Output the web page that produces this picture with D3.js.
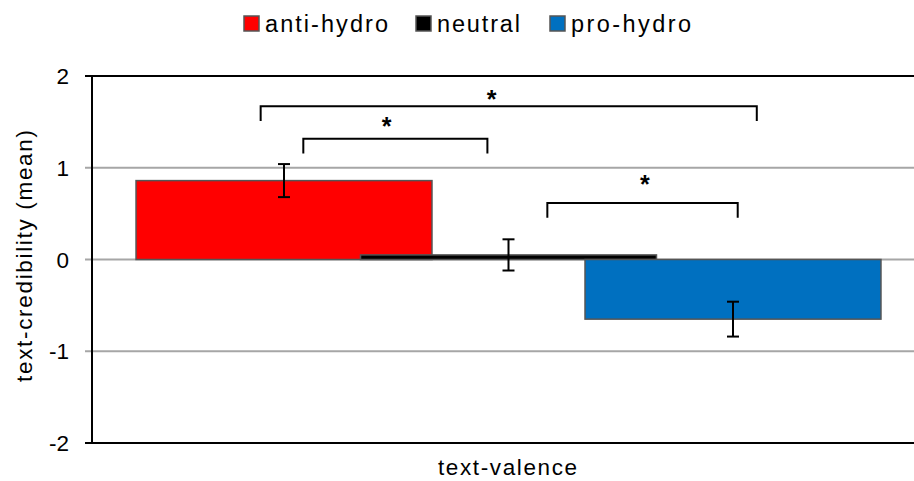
<!DOCTYPE html>
<html>
<head>
<meta charset="utf-8">
<script src="https://cdn.jsdelivr.net/npm/d3@7"></script>
<style>
  html, body { margin: 0; padding: 0; background: #fff; }
  svg { display: block; font-family: "Liberation Sans", Arial, sans-serif; }
</style>
</head>
<body>
<svg id="chart" width="914" height="481"></svg>
<script>
// ---- data ----
const categories = ["text-valence"];
const seriesNames = ["anti-hydro", "neutral", "pro-hydro"];
const seriesColors = ["#ff0000", "#000000", "#0070c0"];
const seriesMeans = [0.86, 0.05, -0.65];
const seriesErrors = [0.18, 0.17, 0.19];
const yTicks = [-2, -1, 0, 1, 2];
const yLabel = "text-credibility (mean)";
// significance brackets: from/to in series-index units, top/bottom in y units
const bracketFrom = [-0.104, 0.086, 1.173];
const bracketTo = [2.106, 0.906, 2.021];
const bracketTop = [1.67, 1.315, 0.615];
const bracketLeg = [0.16, 0.16, 0.16];
const starX = [0.925, 0.457, 1.608];
const starY = [1.82, 1.52, 0.89];
const starText = ["*", "*", "*"];

// ---- layout ----
const W = 914, H = 481;
const plotLeft = 92, plotRight = 925, plotTop = 76, plotBottom = 443;
const svg = d3.select("#chart");

const y = d3.scaleLinear().domain([-2, 2]).range([plotBottom, plotTop]);
const x0 = d3.scaleBand().domain(categories).range([plotLeft, plotRight]).padding(0);
const bw = x0.bandwidth();
const step = bw * 0.2695;
const barW = bw * 0.3553;
const cx = x0(categories[0]) + bw / 2;
const xs = d3.scalePoint().domain(seriesNames).range([cx - step, cx + step]);
const xi = d3.scaleLinear().domain([0, 2]).range([xs(seriesNames[0]), xs(seriesNames[2])]);

// gridlines
svg.append("g").selectAll("line").data(yTicks.filter(t => t !== -2 && t !== 2))
  .join("line")
  .attr("x1", plotLeft - 7).attr("x2", W)
  .attr("y1", d => y(d)).attr("y2", d => y(d))
  .attr("stroke", "#a6a6a6").attr("stroke-width", 2);

// bars
const barData = seriesNames.map((s, i) => ({ s, v: seriesMeans[i], e: seriesErrors[i], c: seriesColors[i] }));
svg.append("g").selectAll("rect").data(barData).join("rect")
  .attr("x", d => xs(d.s) - barW / 2)
  .attr("width", barW)
  .attr("y", d => y(Math.max(0, d.v)))
  .attr("height", d => Math.abs(y(d.v) - y(0)))
  .attr("fill", d => d.c)
  .attr("stroke", "#555555").attr("stroke-width", 1.5);

// error bars
const eg = svg.append("g").attr("stroke", "#000").attr("stroke-width", 2);
barData.forEach(d => {
  const xc = xs(d.s);
  eg.append("line").attr("x1", xc).attr("x2", xc).attr("y1", y(d.v + d.e)).attr("y2", y(d.v - d.e));
  eg.append("line").attr("x1", xc - 6).attr("x2", xc + 6).attr("y1", y(d.v + d.e)).attr("y2", y(d.v + d.e));
  eg.append("line").attr("x1", xc - 6).attr("x2", xc + 6).attr("y1", y(d.v - d.e)).attr("y2", y(d.v - d.e));
});

// axis frame: left axis, top and bottom black lines
svg.append("line").attr("x1", plotLeft - 7).attr("x2", W).attr("y1", y(2)).attr("y2", y(2))
  .attr("stroke", "#000").attr("stroke-width", 2);
svg.append("line").attr("x1", plotLeft - 7).attr("x2", W).attr("y1", y(-2)).attr("y2", y(-2))
  .attr("stroke", "#000").attr("stroke-width", 2);
svg.append("line").attr("x1", plotLeft).attr("x2", plotLeft).attr("y1", y(2) - 1).attr("y2", y(-2) + 1)
  .attr("stroke", "#000").attr("stroke-width", 2);

// y tick labels
svg.append("g").selectAll("text").data(yTicks).join("text")
  .attr("x", 69).attr("y", d => y(d) + 8)
  .attr("text-anchor", "end")
  .attr("font-size", 22.5).attr("fill", "#000")
  .text(d => d);

// y label
svg.append("text")
  .attr("transform", `translate(32,${(130 + 382) / 2}) rotate(-90)`)
  .attr("text-anchor", "middle")
  .attr("font-size", 22.5)
  .attr("textLength", 252).attr("lengthAdjust", "spacing")
  .text(yLabel);

// x label
svg.append("text")
  .attr("x", cx - 1).attr("y", 475)
  .attr("text-anchor", "middle")
  .attr("font-size", 22.5)
  .attr("textLength", 139).attr("lengthAdjust", "spacing")
  .text(categories[0]);

// significance brackets
const bg = svg.append("g").attr("stroke", "#000").attr("stroke-width", 2).attr("fill", "none");
bracketFrom.forEach((f, i) => {
  const xa = xi(f), xb = xi(bracketTo[i]);
  const yt = y(bracketTop[i]), yb = y(bracketTop[i] - bracketLeg[i]);
  bg.append("path").attr("d", `M${xa},${yb}V${yt}H${xb}V${yb}`);
});
svg.append("g").selectAll("text").data(starX).join("text")
  .attr("x", d => xi(d))
  .attr("y", (d, i) => y(starY[i]) + 15)
  .attr("text-anchor", "middle")
  .attr("font-size", 25).attr("font-weight", "bold")
  .text((d, i) => starText[i]);

// legend
const legendX = [244, 416, 550];
const legendLen = [123, 83, 120];
const lg = svg.append("g");
seriesNames.forEach((s, i) => {
  lg.append("rect").attr("x", legendX[i]).attr("y", 16).attr("width", 15).attr("height", 15)
    .attr("fill", seriesColors[i]).attr("stroke", "#555555").attr("stroke-width", 1.5);
  lg.append("text").attr("x", legendX[i] + 21).attr("y", 32)
    .attr("font-size", 23.5)
    .attr("textLength", legendLen[i]).attr("lengthAdjust", "spacing")
    .text(s);
});
</script>
</body>
</html>
